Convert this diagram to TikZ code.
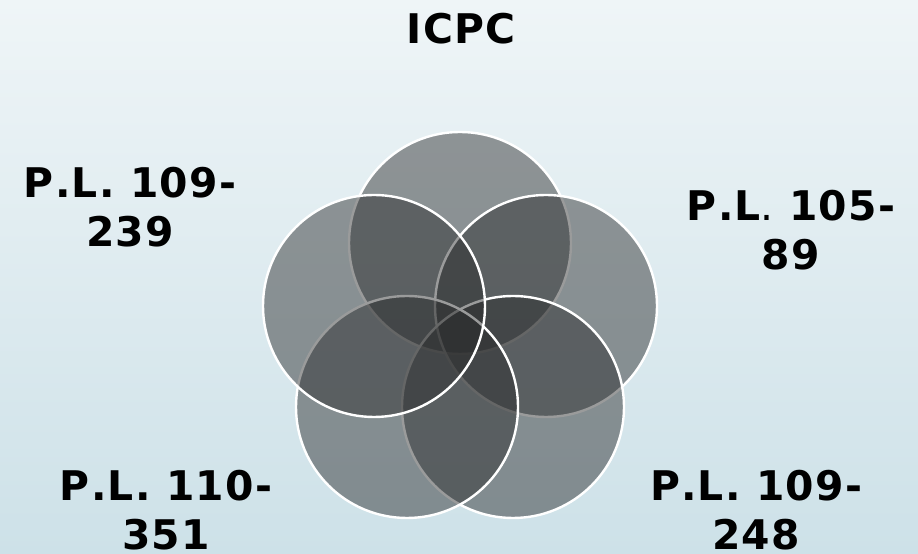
\documentclass[tikz,border=0pt]{standalone}
\usepackage{fontspec}
\setmainfont[Kerning=Off, LetterSpace=3]{DejaVu Sans}
\definecolor{bgtop}{RGB}{239,245,247}
\definecolor{bgbot}{RGB}{205,225,232}
\definecolor{vennfill}{RGB}{42,43,44}
\tikzset{
  venn/.style={circle, minimum size=222bp, inner sep=0pt, draw=white, line width=2.4bp,
    fill=vennfill, fill opacity=0.47, draw opacity=1},
  lbl/.style={anchor=north, inner sep=0pt, align=center,
    font=\fontsize{41}{49}\selectfont\bfseries}
}
\begin{document}
\begin{tikzpicture}[x=1bp, y=1bp]
\shade[top color=bgtop, bottom color=bgbot] (0,0) rectangle (918,554);
\useasboundingbox (0,0) rectangle (918,554);
\node[venn] (C_0) at (460,311) {};
\node[venn] (C_1) at (546,248) {};
\node[venn] (C_2) at (513,147) {};
\node[venn] (C_3) at (407,147) {};
\node[venn] (C_4) at (374,248) {};
\node[lbl] (L_0) at (461,541) {ICPC};
\node[lbl] (L_1) at (791,364) {P.L{\mdseries.} 105-\\89};
\node[lbl] (L_2) at (756,84) {P.L. 109-\\248};
\node[lbl] (L_3) at (166,84) {P.L. 110-\\351};
\node[lbl] (L_4) at (130,387) {P.L. 109-\\239};
\end{tikzpicture}
\end{document}
